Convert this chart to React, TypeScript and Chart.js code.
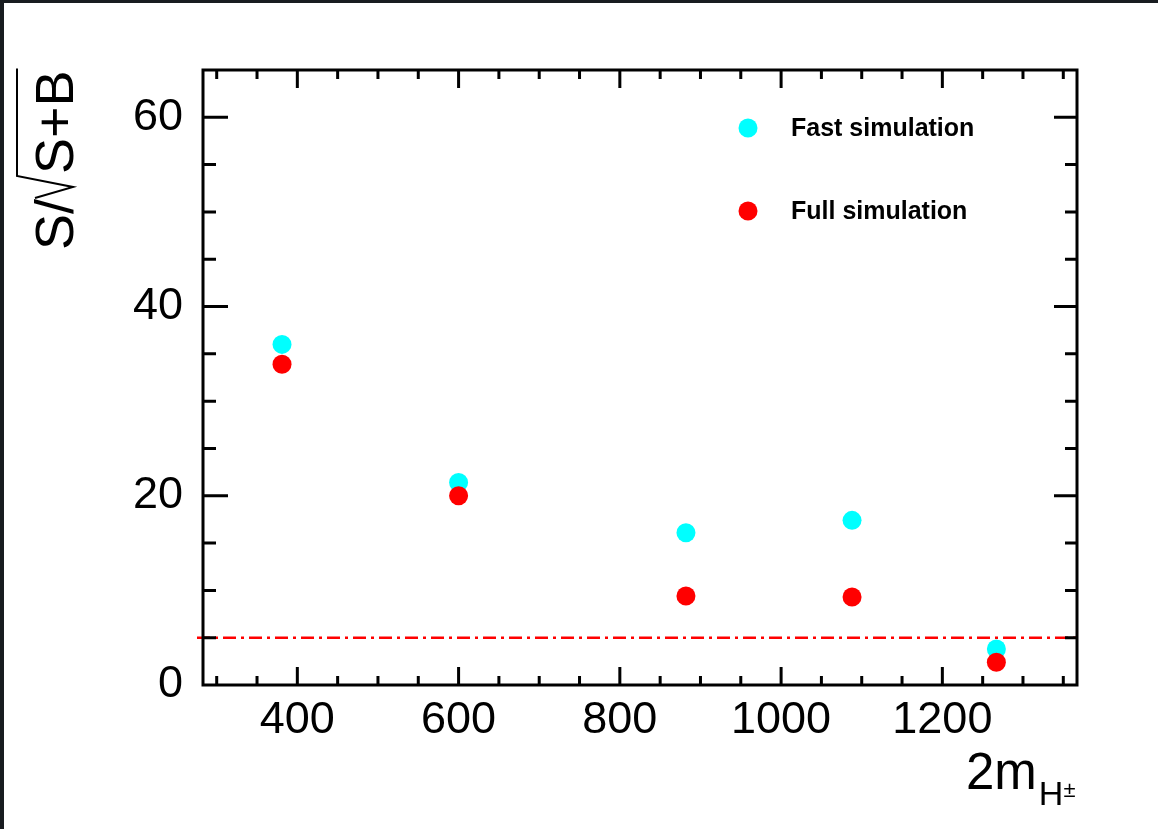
import React, { useEffect, useRef } from "react";
import { Chart, registerables } from "chart.js";

Chart.register(...registerables);

// ---- data ----
const massPoints = [381, 600, 882, 1088, 1267];
const fastSim = [36.0, 21.4, 16.1, 17.4, 3.8];
const fullSim = [33.9, 20.0, 9.4, 9.3, 2.4];
const seriesLabels = ["Fast simulation", "Full simulation"];
const seriesColors = ["#00ffff", "#ff0000"];
const xTickValues = [400, 600, 800, 1000, 1200];
const yTickValues = [0, 20, 40, 60];
const xMinorStep = 50;
const yMinorStep = 5;
const threshold = 5;
const xRange = [283, 1367];
const yRange = [0, 65];

const FONT = "'Liberation Sans', Arial, Helvetica, sans-serif";

const rootPlugin = {
  id: "rootStyle",
  beforeDraw(chart: any) {
    const ctx = chart.ctx;
    ctx.save();
    ctx.fillStyle = "#ffffff";
    ctx.fillRect(0, 0, chart.width, chart.height);
    ctx.fillStyle = "#181c20";
    ctx.fillRect(0, 0, chart.width, 3);
    ctx.fillRect(0, 0, 4, chart.height);
    ctx.restore();
  },
  beforeDatasetsDraw(chart: any) {
    const { ctx, chartArea, scales } = chart;
    const y = scales.y.getPixelForValue(threshold);
    ctx.save();
    ctx.strokeStyle = "#ff0000";
    ctx.lineWidth = 2.5;
    ctx.setLineDash([13, 5, 3, 5]);
    ctx.beginPath();
    ctx.moveTo(chartArea.left - 6, y);
    ctx.lineTo(chartArea.right + 2, y);
    ctx.stroke();
    ctx.restore();
  },
  afterDraw(chart: any) {
    const { ctx, chartArea, scales } = chart;
    const { left, right, top, bottom } = chartArea;
    const xs = scales.x;
    const ys = scales.y;
    ctx.save();
    ctx.strokeStyle = "#000";
    ctx.lineWidth = 3;
    ctx.lineCap = "butt";
    for (let v = Math.ceil(xs.min / xMinorStep) * xMinorStep; v <= xs.max; v += xMinorStep) {
      const px = xs.getPixelForValue(v);
      if (px <= left + 2 || px >= right - 2) continue;
      const major = xTickValues.includes(v);
      const len = major ? 18 : 9;
      ctx.beginPath();
      ctx.moveTo(px, bottom);
      ctx.lineTo(px, bottom - len);
      ctx.moveTo(px, top);
      ctx.lineTo(px, top + len);
      ctx.stroke();
    }
    for (let v = Math.ceil(ys.min / yMinorStep) * yMinorStep; v <= ys.max; v += yMinorStep) {
      const py = ys.getPixelForValue(v);
      if (py >= bottom - 2 || py <= top + 2) continue;
      const major = yTickValues.includes(v);
      ctx.beginPath();
      ctx.moveTo(left, py);
      ctx.lineTo(left + (major ? 25 : 13), py);
      ctx.moveTo(right, py);
      ctx.lineTo(right - (major ? 23 : 12), py);
      ctx.stroke();
    }
    ctx.strokeRect(left, top, right - left, bottom - top);
    ctx.restore();

    // legend
    ctx.save();
    const legendY = [128, 211];
    seriesLabels.forEach((lab, i) => {
      ctx.fillStyle = seriesColors[i];
      ctx.beginPath();
      ctx.arc(748, legendY[i], 9.5, 0, Math.PI * 2);
      ctx.fill();
      ctx.fillStyle = "#000";
      ctx.font = `bold 25px ${FONT}`;
      ctx.textAlign = "left";
      ctx.textBaseline = "middle";
      ctx.fillText(lab, 791, legendY[i] + 1);
    });
    ctx.restore();

    // y title: S/sqrt(S+B)
    ctx.save();
    ctx.translate(73, 250);
    ctx.rotate(-Math.PI / 2);
    ctx.fillStyle = "#000";
    ctx.font = `54px ${FONT}`;
    ctx.textAlign = "left";
    ctx.textBaseline = "alphabetic";
    ctx.fillText("S/", 0, 0);
    const w1 = ctx.measureText("S/").width;
    const radStart = w1 + 1;
    const radTop = radStart + 22;
    ctx.fillText("S+B", radTop + 2, 0);
    const w2 = ctx.measureText("S+B").width;
    ctx.strokeStyle = "#000";
    ctx.lineWidth = 2;
    ctx.beginPath();
    ctx.moveTo(radStart, -38);
    ctx.lineTo(radStart + 11, 0);
    ctx.lineTo(radTop, -56);
    ctx.lineTo(radTop + 2 + w2 + 2, -56);
    ctx.stroke();
    ctx.restore();

    // x title: 2m_{H±}
    ctx.save();
    ctx.fillStyle = "#000";
    ctx.textAlign = "left";
    ctx.textBaseline = "alphabetic";
    ctx.font = `51px ${FONT}`;
    ctx.fillText("2m", 966, 789);
    const wm = ctx.measureText("2m").width;
    ctx.font = `34px ${FONT}`;
    ctx.fillText("H", 966 + wm + 2, 805);
    const wh = ctx.measureText("H").width;
    ctx.font = `22px ${FONT}`;
    ctx.fillText("±", 966 + wm + 2 + wh, 797);
    ctx.restore();
  },
};

export default function App() {
  const ref = useRef<HTMLCanvasElement>(null);
  useEffect(() => {
    if (!ref.current) return;
    const chart = new Chart(ref.current, {
      type: "scatter",
      data: {
        datasets: [
          {
            label: seriesLabels[0],
            data: massPoints.map((x, i) => ({ x, y: fastSim[i] })),
            backgroundColor: seriesColors[0],
            borderWidth: 0,
            pointRadius: 9.5,
            order: 1,
          },
          {
            label: seriesLabels[1],
            data: massPoints.map((x, i) => ({ x, y: fullSim[i] })),
            backgroundColor: seriesColors[1],
            borderWidth: 0,
            pointRadius: 9.5,
            order: 0,
          },
        ],
      },
      options: {
        animation: false,
        responsive: false,
        devicePixelRatio: 1,
        layout: { padding: { left: 0, top: 70, right: 81, bottom: 0 } },
        plugins: {
          legend: { display: false },
          tooltip: { enabled: false },
        },
        scales: {
          x: {
            type: "linear",
            min: xRange[0],
            max: xRange[1],
            grid: { display: false, drawTicks: false },
            border: { display: false },
            ticks: {
              font: { size: 45, family: FONT },
              color: "#000",
              padding: 9,
              maxRotation: 0,
              autoSkip: false,
              callback: (v: any) => String(v),
            },
            afterBuildTicks: (s: any) => {
              s.ticks = xTickValues.map((v) => ({ value: v }));
            },
            afterFit: (s: any) => {
              s.height = 144;
            },
          },
          y: {
            type: "linear",
            min: yRange[0],
            max: yRange[1],
            grid: { display: false, drawTicks: false },
            border: { display: false },
            ticks: {
              font: { size: 45, family: FONT },
              color: "#000",
              padding: 20,
              autoSkip: false,
              callback: (v: any) => String(v),
            },
            afterBuildTicks: (s: any) => {
              s.ticks = yTickValues.map((v) => ({ value: v }));
            },
            afterFit: (s: any) => {
              s.width = 203;
            },
          },
        },
      },
      plugins: [rootPlugin],
    });
    return () => chart.destroy();
  }, []);
  return (
    <div style={{ position: "fixed", left: 0, top: 0, width: 1158, height: 829, background: "#fff" }}>
      <canvas ref={ref} width={1158} height={829} style={{ display: "block", width: 1158, height: 829 }} />
    </div>
  );
}
